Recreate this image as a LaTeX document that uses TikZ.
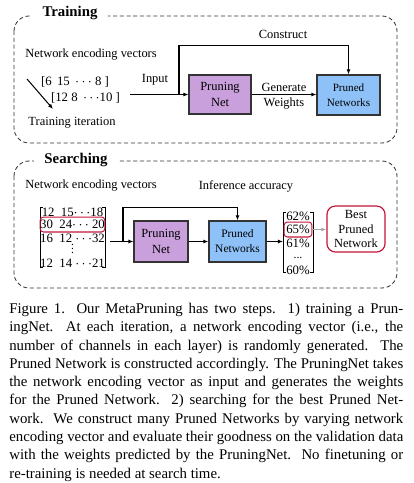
\documentclass[tikz,border=0pt]{standalone}
\usepackage{fontspec}
\setmainfont{Liberation Serif}
\usetikzlibrary{arrows.meta,positioning,calc}
\definecolor{mpviolet}{HTML}{C9A0DC}
\definecolor{mpblue}{HTML}{8EC1F7}
\definecolor{mpred}{HTML}{C4163C}
\definecolor{mpedge}{HTML}{333333}

\tikzset{
  phasebox/.style={draw=black!80, dash pattern=on 2.4pt off 1.6pt,
                   rounded corners=9pt, line width=0.5pt},
  phasetitle/.style={fill=white, inner xsep=6pt, inner ysep=1pt,
                     font=\fontsize{8.8}{10}\selectfont\bfseries},
  netbox/.style={rectangle, draw=mpedge, line width=0.7pt, align=center,
                 inner sep=0pt},
  lbl/.style={inner sep=0pt, align=center, font=\fontsize{7.4}{9}\selectfont},
  numtxt/.style={inner sep=0pt, font=\fontsize{7.6}{8}\selectfont},
  flow/.style={-{Latex[length=3pt,width=2.4pt]}, line width=0.6pt},
}

\begin{document}
\begin{tikzpicture}[x=0.594pt, y=-0.594pt]
\useasboundingbox (0,0) rectangle (414,483);

% training phase
\draw[phasebox] (14,16) rectangle (397,143);
\node[phasetitle] (trainTitle) at (70,13) {Training};

\node[lbl] (trainVecTxt) at (91,55) {Network encoding vectors};
\node[lbl] (constructTxt) at (283,34) {Construct};
\node[numtxt] (vecA) at (75,82) {[6\,\ 15\,\ $\cdots$\ 8\ ]};
\node[numtxt] (vecB) at (85.5,98) {[12\ 8\,\ $\cdots$10\ ]};
\node[lbl] (iterTxt) at (72,123) {Training iteration};
\node[lbl] (inputTxt) at (155,80) {Input};

\node[netbox, fill=mpviolet, minimum width=36.8pt, minimum height=23.2pt,
      font=\fontsize{7.4}{9.5}\selectfont]
  (pnetA) at (220,94.5) {Pruning\\Net};
\node[netbox, fill=mpblue, minimum width=37.4pt, minimum height=23.8pt,
      font=\fontsize{6.6}{8.8}\selectfont]
  (prnA) at (348.5,95) {Pruned\\Networks};
\node[lbl, font=\fontsize{7.4}{9}\selectfont] (genTxt) at (284,96.5) {Generate\\Weights};

\coordinate (iterStart) at (27,79);
\coordinate (iterEnd) at (53,109);
\coordinate (inStart) at (130,94.5);
\coordinate (split) at (179,94.5);
\coordinate (cTop) at (179,45);

\draw[flow] (iterStart) -- (iterEnd);
\draw[flow] (inStart) -- (pnetA.west);
\draw[flow] (split) -- (cTop) -| (prnA.north);
\draw[flow] (pnetA.east) -- (pnetA.east -| prnA.west);

% searching phase
\draw[phasebox] (14,161) rectangle (397,288);
\node[phasetitle] (searchTitle) at (76,160) {Searching};

\node[lbl] (searchVecTxt) at (91,186) {Network encoding vectors};
\node[lbl] (accTxt) at (246,186) {Inference accuracy};

% encoding matrix
\draw[line width=0.5pt] (43,207) -| (40,267) -- (43,267);
\draw[line width=0.5pt] (102,207) -| (105,267) -- (102,267);
\node[numtxt] (rowA) at (72.5,212) {12\ \ 15$\cdots$18};
\node[numtxt, draw=mpred, line width=0.6pt, rounded corners=2pt,
      minimum width=36.2pt, minimum height=8.9pt]
  (rowB) at (72.5,224.5) {30\ \ 24$\cdots$\ 20};
\node[numtxt] (rowC) at (72.5,238) {16\ \ 12\ $\cdots$32};
\node[numtxt, align=center, font=\fontsize{7}{2.2}\selectfont] (rowD) at (72.5,249) {.\\.\\.};
\node[numtxt] (rowE) at (72.5,263) {12\ \ 14\ $\cdots$21};

\node[netbox, fill=mpviolet, minimum width=32pt, minimum height=24.4pt,
      font=\fontsize{7.4}{9.5}\selectfont]
  (pnetB) at (161,241.5) {Pruning\\Net};
\node[netbox, fill=mpblue, minimum width=33.9pt, minimum height=24.4pt,
      font=\fontsize{6.8}{9}\selectfont]
  (prnB) at (237.5,241.5) {Pruned\\Networks};

% accuracy vector
\draw[line width=0.5pt] (286,212) -| (283,272) -- (286,272);
\draw[line width=0.5pt] (310,212) -| (313,272) -- (310,272);
\node[lbl, font=\fontsize{7.6}{9}\selectfont] (accA) at (298,216) {62\%};
\node[lbl, font=\fontsize{7.6}{9}\selectfont, draw=mpred, line width=0.6pt,
      rounded corners=2pt, minimum width=16.6pt, minimum height=8.9pt]
  (accB) at (298,229.5) {65\%};
\node[lbl, font=\fontsize{7.6}{9}\selectfont] (accC) at (298,243.5) {61\%};
\node[lbl, font=\fontsize{7}{7}\selectfont] (accD) at (298,257.5) {...};
\node[lbl, font=\fontsize{7.6}{9}\selectfont] (accE) at (298,270) {60\%};

\node[rectangle, draw=mpred, line width=0.7pt, rounded corners=5pt,
      minimum width=34.5pt, minimum height=27.3pt, inner sep=0pt,
      align=center, font=\fontsize{7.4}{8.6}\selectfont]
  (best) at (356,229) {Best\\Pruned\\Network};

\coordinate (mOut) at (110,241.5);
\coordinate (mSplit) at (123,241.5);
\coordinate (sTop) at (123,207);
\coordinate (accIn) at (283,241.5);

\draw[flow] (mOut) -- (pnetB.west);
\draw[flow] (mSplit) -- (sTop) -| (prnB.north);
\draw[flow] (pnetB.east) -- (prnB.west);
\draw[flow] (prnB.east) -- (accIn);
\draw[flow, draw=gray!70] (accB.east) -- (best.west |- accB.east);

% caption
\node[anchor=north west, inner sep=0pt, text width=234pt, align=justify,
      font=\fontsize{8.8}{10.85}\selectfont]
  (caption) at (9,303)
  {Figure 1. Our MetaPruning has two steps.\ \ 1) training a Prun-\linebreak
   ingNet.\ \ At each iteration, a network encoding vector (i.e., the\linebreak
   number of channels in each layer) is randomly generated.\ \ The\linebreak
   Pruned Network is constructed accordingly. The PruningNet takes\linebreak
   the network encoding vector as input and generates the weights\linebreak
   for the Pruned Network.\ \ 2) searching for the best Pruned Net-\linebreak
   work.\ \ We construct many Pruned Networks by varying network\linebreak
   encoding vector and evaluate their goodness on the validation data\linebreak
   with the weights predicted by the PruningNet.\ \ No finetuning or\linebreak
   re-training is needed at search time.};
\end{tikzpicture}
\end{document}
